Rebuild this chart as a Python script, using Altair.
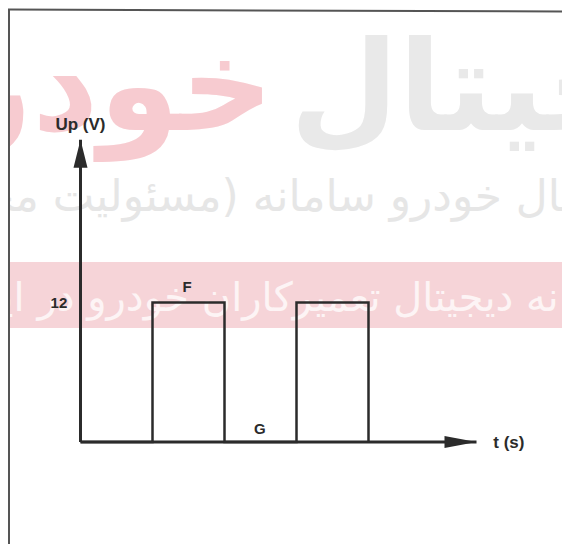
import altair as alt
import pandas as pd

# ---------------- data ----------------
edge_t = [0, 1, 2, 3, 4]          # switching instants (s, arbitrary units)
edge_U = [0, 12, 0, 12, 0]        # Up level after each instant (V)
T_AXIS_END = 5.5                  # end of time axis (arrow tip)
U_AXIS_END = 26                   # end of voltage axis (arrow tip)

title_text = ["Up (V)", "t (s)"]
title_t = [0.0, 5.95]
title_U = [27.3, -0.1]

mark_text_ = ["12", "F", "G"]
mark_t = [-0.3, 1.48, 2.49]
mark_U = [12.0, 13.3, 1.1]

wm_big_pink = "خودرو"
wm_big_gray = "دیجیتال"
wm_line2 = "دیجیتال خودرو سامانه (مسئولیت محدود)"
wm_band = "سامانه دیجیتال تعمیرکاران خودرو در ایران"

# ---------------- layout ----------------
W, H = 554, 536
T0_PX, PX_PER_T = 72.5, 72.0
U0_PX, PX_PER_V = 434.0, 11.625

xs = alt.Scale(domain=[-T0_PX / PX_PER_T, (W - T0_PX) / PX_PER_T], nice=False, zero=False)
ys = alt.Scale(domain=[-(H - U0_PX) / PX_PER_V, U0_PX / PX_PER_V], nice=False, zero=False)

INK = "#2b2b2b"
dummy = pd.DataFrame({"a": [0]})

# watermark / background
band = alt.Chart(dummy).mark_rect(color="#f6d4d8").encode(
    x=alt.value(0), x2=alt.value(W), y=alt.value(254), y2=alt.value(320))

big_pink = alt.Chart(dummy).mark_text(
    text=wm_big_pink, align="right", baseline="alphabetic", font="DejaVu Sans",
    fontSize=130, fontWeight="bold", color="#f7cbd0").encode(x=alt.value(266), y=alt.value(122))
big_gray = alt.Chart(dummy).mark_text(
    text=wm_big_gray, align="left", baseline="alphabetic", font="DejaVu Sans",
    fontSize=125, fontWeight="bold", color="#e9e9e9").encode(x=alt.value(282), y=alt.value(122))
line2 = alt.Chart(dummy).mark_text(
    text=wm_line2, align="right", baseline="alphabetic", font="DejaVu Sans",
    fontSize=44, color="#e6e6e6").encode(x=alt.value(640), y=alt.value(203))
band_txt = alt.Chart(dummy).mark_text(
    text=wm_band, align="right", baseline="alphabetic", font="DejaVu Sans",
    fontSize=40, color="#fdf4f5").encode(x=alt.value(630), y=alt.value(303))

# frame
frame_left = alt.Chart(dummy).mark_rule(color="#555555", strokeWidth=2).encode(
    x=alt.value(1), y=alt.value(1), y2=alt.value(H))
frame_top = alt.Chart(dummy).mark_rule(color="#555555", strokeWidth=2).encode(
    x=alt.value(0), x2=alt.value(W), y=alt.value(1.5), y2=alt.value(3.5))

# axes
axes_df = pd.DataFrame({"t0": [0, 0], "t1": [0, T_AXIS_END], "u0": [0, 0], "u1": [U_AXIS_END, 0]})
axes = alt.Chart(axes_df).mark_rule(color=INK, strokeWidth=3).encode(
    x=alt.X("t0:Q", scale=xs, axis=None), x2="t1:Q",
    y=alt.Y("u0:Q", scale=ys, axis=None), y2="u1:Q")

y_arrow = alt.Chart(pd.DataFrame({"t": [0], "u": [U_AXIS_END]})).mark_point(
    shape="M0,0L0.25,1L-0.25,1Z", size=3136, filled=True, color=INK, opacity=1).encode(
    x=alt.X("t:Q", scale=xs, axis=None), y=alt.Y("u:Q", scale=ys, axis=None))
x_arrow = alt.Chart(pd.DataFrame({"t": [T_AXIS_END], "u": [0]})).mark_point(
    shape="M0,0L-1,-0.19L-1,0.19Z", size=4096, filled=True, color=INK, opacity=1).encode(
    x=alt.X("t:Q", scale=xs, axis=None), y=alt.Y("u:Q", scale=ys, axis=None))

# signal
wave = alt.Chart(pd.DataFrame({"t": edge_t, "U": edge_U})).mark_line(
    interpolate="step-after", color=INK, strokeWidth=2.5).encode(
    x=alt.X("t:Q", scale=xs, axis=None), y=alt.Y("U:Q", scale=ys, axis=None))

titles = alt.Chart(pd.DataFrame({"lab": title_text, "t": title_t, "U": title_U})).mark_text(
    font="Liberation Sans", fontWeight="bold", fontSize=17, color=INK,
    align="center", baseline="middle").encode(
    x=alt.X("t:Q", scale=xs, axis=None), y=alt.Y("U:Q", scale=ys, axis=None), text="lab:N")
marks = alt.Chart(pd.DataFrame({"lab": mark_text_, "t": mark_t, "U": mark_U})).mark_text(
    font="Liberation Sans", fontWeight="bold", fontSize=15, color=INK,
    align="center", baseline="middle").encode(
    x=alt.X("t:Q", scale=xs, axis=None), y=alt.Y("U:Q", scale=ys, axis=None), text="lab:N")

chart = alt.layer(
    band, big_pink, big_gray, line2, band_txt, frame_left, frame_top,
    axes, y_arrow, x_arrow, wave, titles, marks
).properties(
    width=W, height=H, padding=0, background="white",
    autosize=alt.AutoSizeParams(type="none")
).configure_view(stroke=None)

chart.save("out.html", embed_options={"renderer": "svg", "actions": False})
